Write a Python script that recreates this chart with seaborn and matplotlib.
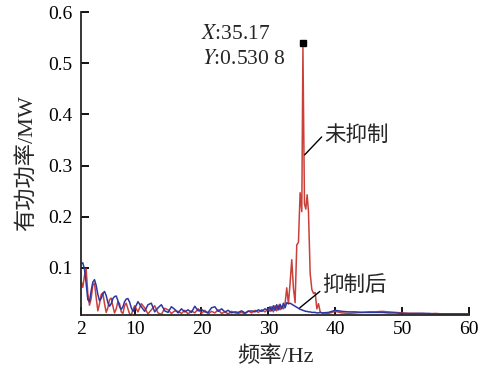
"""
Active power spectrum before / after oscillation suppression.
"""

import numpy as np
import pandas as pd
import matplotlib
matplotlib.use('Agg')
import matplotlib.pyplot as plt
import seaborn as sns

# frequency points (Hz) in four segments
freq_a = [2.0, 2.25, 2.5, 2.75, 3.0, 3.25, 3.5, 3.75, 4.0, 4.25, 4.5,
          4.75, 5.0, 5.25, 5.5, 5.75, 6.0, 6.25, 6.5, 6.75, 7.0, 7.25,
          7.5, 7.75, 8.0, 8.25, 8.5, 8.75, 9.0, 9.25, 9.5, 9.75, 10.0]
freq_b = [10.5, 11.0, 11.5, 12.0, 12.5, 13.0, 13.5, 14.0, 14.5, 15.0,
          15.5, 16.0, 16.5, 17.0, 17.5, 18.0, 18.5, 19.0, 19.5, 20.0,
          20.5, 21.0, 21.5, 22.0, 22.5, 23.0, 23.5, 24.0, 24.5, 25.0,
          25.5, 26.0, 26.5, 27.0, 27.5, 28.0, 28.5, 29.0, 29.5, 30.0]
freq_c = [30.25, 30.5, 30.75, 31.0, 31.25, 31.5, 31.75, 32.0, 32.25, 32.5,
          32.75, 33.0, 33.25, 33.5, 33.75, 34.0, 34.25, 34.5, 34.75, 35.0,
          35.17, 35.4, 35.6, 35.8, 36.0, 36.25, 36.5, 36.75, 37.0, 37.25,
          37.5, 37.75, 38.0]
freq_d = [39, 40, 41, 42, 43, 44, 45, 46, 47, 48, 49,
          50, 51, 52, 53, 54, 55, 56, 57, 58, 59, 60]

# 未抑制 (red), MW
red_a = [0.074, 0.062, 0.085, 0.098, 0.050, 0.027, 0.040, 0.066, 0.070, 0.042, 0.016,
         0.030, 0.048, 0.051, 0.030, 0.013, 0.022, 0.038, 0.041, 0.025, 0.012, 0.020,
         0.034, 0.030, 0.014, 0.011, 0.026, 0.031, 0.020, 0.010, 0.008, 0.018, 0.026]
red_b = [0.014, 0.030, 0.022, 0.010, 0.018, 0.026, 0.012, 0.009, 0.021, 0.018,
         0.011, 0.016, 0.015, 0.011, 0.017, 0.010, 0.016, 0.012, 0.020, 0.011,
         0.017, 0.010, 0.015, 0.012, 0.018, 0.011, 0.014, 0.010, 0.015, 0.012,
         0.011, 0.013, 0.010, 0.016, 0.012, 0.017, 0.013, 0.018, 0.014, 0.020]
red_c = [0.015, 0.024, 0.014, 0.026, 0.016, 0.027, 0.018, 0.025, 0.020, 0.030,
         0.061, 0.030, 0.070, 0.116, 0.060, 0.032, 0.145, 0.150, 0.247, 0.210,
         0.5308, 0.225, 0.215, 0.243, 0.210, 0.090, 0.058, 0.050, 0.052, 0.020,
         0.030, 0.014, 0.012]
red_d = [0.011, 0.015, 0.012, 0.011, 0.012, 0.013, 0.014, 0.014, 0.015, 0.014, 0.013,
         0.012, 0.011, 0.011, 0.011, 0.010, 0.011, 0.010, 0.010, 0.010, 0.010, 0.010]

# 抑制后 (blue), MW
blue_a = [0.108, 0.110, 0.098, 0.070, 0.038, 0.034, 0.055, 0.072, 0.077, 0.066, 0.048,
          0.036, 0.040, 0.050, 0.054, 0.046, 0.032, 0.025, 0.030, 0.040, 0.044, 0.045,
          0.036, 0.024, 0.019, 0.024, 0.034, 0.039, 0.040, 0.033, 0.022, 0.015, 0.020]
blue_b = [0.034, 0.024, 0.015, 0.028, 0.031, 0.014, 0.022, 0.028, 0.016, 0.013,
          0.024, 0.019, 0.012, 0.020, 0.014, 0.018, 0.013, 0.025, 0.016, 0.019,
          0.014, 0.013, 0.022, 0.024, 0.015, 0.020, 0.014, 0.017, 0.012, 0.014,
          0.013, 0.016, 0.012, 0.015, 0.016, 0.014, 0.018, 0.015, 0.020, 0.017]
blue_c = [0.024, 0.016, 0.026, 0.017, 0.028, 0.018, 0.029, 0.020, 0.031, 0.022,
          0.032, 0.030, 0.031, 0.029, 0.027, 0.025, 0.023, 0.021, 0.019, 0.018,
          0.017, 0.016, 0.015, 0.015, 0.014, 0.014, 0.013, 0.013, 0.013, 0.012,
          0.012, 0.013, 0.012]
blue_d = [0.013, 0.017, 0.015, 0.014, 0.014, 0.013, 0.013, 0.013, 0.013, 0.012, 0.012,
          0.011, 0.011, 0.011, 0.011, 0.011, 0.010, 0.010, 0.010, 0.010, 0.010, 0.010]

peak_x = 35.17
peak_y = 0.5308
x_ticks = [2, 10, 20, 30, 40, 50, 60]
y_ticks = [0.1, 0.2, 0.3, 0.4, 0.5, 0.6]

freq = freq_a + freq_b + freq_c + freq_d
red = red_a + red_b + red_c + red_d
blue = blue_a + blue_b + blue_c + blue_d
assert len(freq) == len(red) == len(blue)

df = pd.concat([
    pd.DataFrame({'freq': freq, 'power': red, 'series': '未抑制'}),
    pd.DataFrame({'freq': freq, 'power': blue, 'series': '抑制后'}),
])

sns.set_style('ticks')
plt.rcParams['font.family'] = ['Liberation Serif', 'Noto Sans CJK SC']
plt.rcParams['mathtext.fontset'] = 'stix'
plt.rcParams['axes.linewidth'] = 1.3
plt.rcParams['xtick.direction'] = 'in'
plt.rcParams['ytick.direction'] = 'in'

fig = plt.figure(figsize=(4.8, 3.79), dpi=100)
ax = fig.add_axes([0.169, 0.169, 0.808, 0.799])

sns.lineplot(data=df, x='freq', y='power', hue='series',
             palette={'未抑制': '#c9403a', '抑制后': '#2c37a4'},
             hue_order=['未抑制', '抑制后'], linewidth=1.1,
             legend=False, ax=ax, sort=False)

ax.plot([peak_x], [peak_y + 0.008], marker='s', color='black',
        markersize=4.5, linestyle='none')

ax.set_xlim(2, 60)
ax.set_ylim(0.008, 0.6)
ax.set_xticks(x_ticks)
ax.set_yticks(y_ticks)
ax.set_yticklabels([f'{v:.1f}' for v in y_ticks])
ax.tick_params(direction='in', length=6, width=1.3, labelsize=14,
               colors='black')
ax.tick_params(axis='x', pad=4)
ax.tick_params(axis='y', pad=6)
sns.despine(ax=ax)

ax.set_xlabel('频率/Hz', fontsize=16, labelpad=6)
ax.set_ylabel('有功功率/MW', fontsize=16, labelpad=8)

# peak readout
ax.text(20.0, 0.556, '$X$:35.17', fontsize=15.5, va='center', ha='left')
ax.text(20.1, 0.507, '$Y$:0.530 8', fontsize=15.5, va='center', ha='left')

# curve labels with leader lines
ax.plot([35.43, 37.97], [0.321, 0.356], color='black', linewidth=1.0)
ax.text(38.4, 0.358, '未抑制', fontsize=15.5, va='center', ha='left')
ax.plot([34.7, 37.7], [0.022, 0.054], color='black', linewidth=1.0)
ax.text(38.1, 0.064, '抑制后', fontsize=15.5, va='center', ha='left')

fig.savefig('out.png', dpi=100)
